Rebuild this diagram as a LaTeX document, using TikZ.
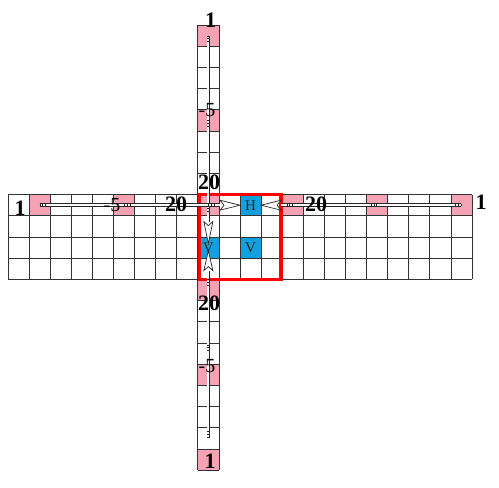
\documentclass[tikz,border=0pt]{standalone}
\usepackage{fontspec}
\setmainfont{Liberation Serif}
\usetikzlibrary{calc}
\definecolor{pinkc}{RGB}{244,162,180}
\definecolor{bluec}{RGB}{20,160,220}
\tikzset{
  cellbox/.style={minimum width=21.09pt, minimum height=21.2pt, inner sep=0pt, outer sep=0pt, draw=none},
  pinkcell/.style={cellbox, fill=pinkc},
  bluecell/.style={cellbox, fill=bluec, font=\fontsize{15}{18}\selectfont, text=black!85},
  gridline/.style={draw=black!80, line width=0.75pt},
  redbox/.style={draw=red, line width=3.5pt},
  shaftout/.style={draw=black!85, line width=3.6pt},
  shaftin/.style={draw=white, line width=2.2pt, shorten <=0.7pt},
  shafttick/.style={draw=black!85, line width=2.2pt, dash pattern=on 0.6pt off 2.2pt},
  headfill/.style={draw=black!85, fill=white, line width=0.7pt, line join=miter},
  numlbl/.style={font=\fontsize{22}{26}\selectfont\bfseries, inner sep=0pt},
  minlbl/.style={font=\fontsize{20}{24}\selectfont, inner sep=0pt},
}
\newcommand\myshaft[2]{%
  \draw[shaftout] (#1) -- (#2);
  \draw[shaftin] (#1) -- (#2);
  \draw[shafttick] (#1) -- ($(#1)!8pt!(#2)$);
}
\begin{document}
\begin{tikzpicture}[x=1pt,y=-1pt]
\useasboundingbox (0,0) rectangle (499,488);
\begin{scope}[shift={(8,25)}, x=21.09pt, y=-21.2pt]
  % pink cells
  \node[pinkcell] (L1)  at (1.5,8.5) {};
  \node[pinkcell] (L5)  at (5.5,8.5) {};
  \node[pinkcell] (L9)  at (9.5,8.5) {};
  \node[pinkcell] (R13) at (13.5,8.5) {};
  \node[pinkcell] (R17) at (17.5,8.5) {};
  \node[pinkcell] (R21) at (21.5,8.5) {};
  \node[pinkcell] (T0)  at (9.5,0.5) {};
  \node[pinkcell] (T4)  at (9.5,4.5) {};
  \node[pinkcell] (B12) at (9.5,12.5) {};
  \node[pinkcell] (B16) at (9.5,16.5) {};
  \node[pinkcell] (B20) at (9.5,20.5) {};
  % blue cells
  \node[bluecell] (H)  at (11.5,8.5) {H};
  \node[bluecell] (V1) at (9.5,10.5) {V};
  \node[bluecell] (V2) at (11.5,10.5) {V};
  % grid of the band
  \foreach \j in {8,...,12} \draw[gridline] (0,\j) -- (22,\j);
  \foreach \i in {0,...,22} \draw[gridline] (\i,8) -- (\i,12);
  % vertical strip
  \foreach \j in {0,...,8} \draw[gridline] (9,\j) -- (10,\j);
  \foreach \j in {12,...,21} \draw[gridline] (9,\j) -- (10,\j);
  \foreach \i in {9,10} {
    \draw[gridline] (\i,0) -- (\i,8);
    \draw[gridline] (\i,12) -- (\i,21);
  }
  % red box
  \draw[redbox] (9.08,8) rectangle (12.95,12);
\end{scope}
% arrow bases and tails
\coordinate (hl) at ($(H.west)+(-20,0)$);
\coordinate (hr) at ($(H.east)+(20,0)$);
\coordinate (vtip) at ($(V1.center)+(0,-4)$);
\coordinate (vd) at ($(vtip)+(0,-22)$);
\coordinate (utip) at ($(V1.center)+(0,3)$);
\coordinate (vu) at ($(utip)+(0,20)$);
\coordinate (b12) at ($(B12.center)+(0,-4.6)$);
\coordinate (b16) at ($(B16.center)+(0,-24)$);
\coordinate (b20) at ($(B20.center)+(0,-22)$);
% vertical shafts
\myshaft{T0.center}{vd}
\myshaft{T4.center}{vd}
\myshaft{L9.center}{vd}
\myshaft{b20}{vu}
\myshaft{b16}{vu}
\myshaft{b12}{vu}
% horizontal shafts
\myshaft{L1.center}{hl}
\myshaft{L5.center}{hl}
\myshaft{L9.center}{hl}
\myshaft{R21.center}{hr}
\myshaft{R17.center}{hr}
\myshaft{R13.center}{hr}
% heads
\draw[headfill] (H.west) -- ++(-20,5) -- ++(4,-5) -- ++(-4,-5) -- cycle;
\draw[headfill] (H.east) -- ++(20,5) -- ++(-4,-5) -- ++(4,-5) -- cycle;
\draw[headfill] (vtip) -- ++(4.5,-22) -- ++(-4.5,4) -- ++(-4.5,-4) -- cycle;
\draw[headfill] (utip) -- ++(4.5,20) -- ++(-4.5,-4) -- ++(-4.5,4) -- cycle;
% labels
\node[numlbl] (lt1)  at (210.5,20) {1};
\node[minlbl] (lt5)  at (207,110) {-5};
\node[numlbl] (lt20) at (209,182) {20};
\node[numlbl] (lb20) at (209,303) {20};
\node[minlbl] (lb5)  at (207,366) {-5};
\node[numlbl] (lb1)  at (210,461) {1};
\node[numlbl] (ll1)  at (20,208) {1};
\node[minlbl] (ll5)  at (112,205) {-5};
\node[numlbl] (ll20) at (176,204) {20};
\node[numlbl] (lr20) at (316,204) {20};
\node[numlbl] (lr1)  at (481,202) {1};
\end{tikzpicture}
\end{document}
